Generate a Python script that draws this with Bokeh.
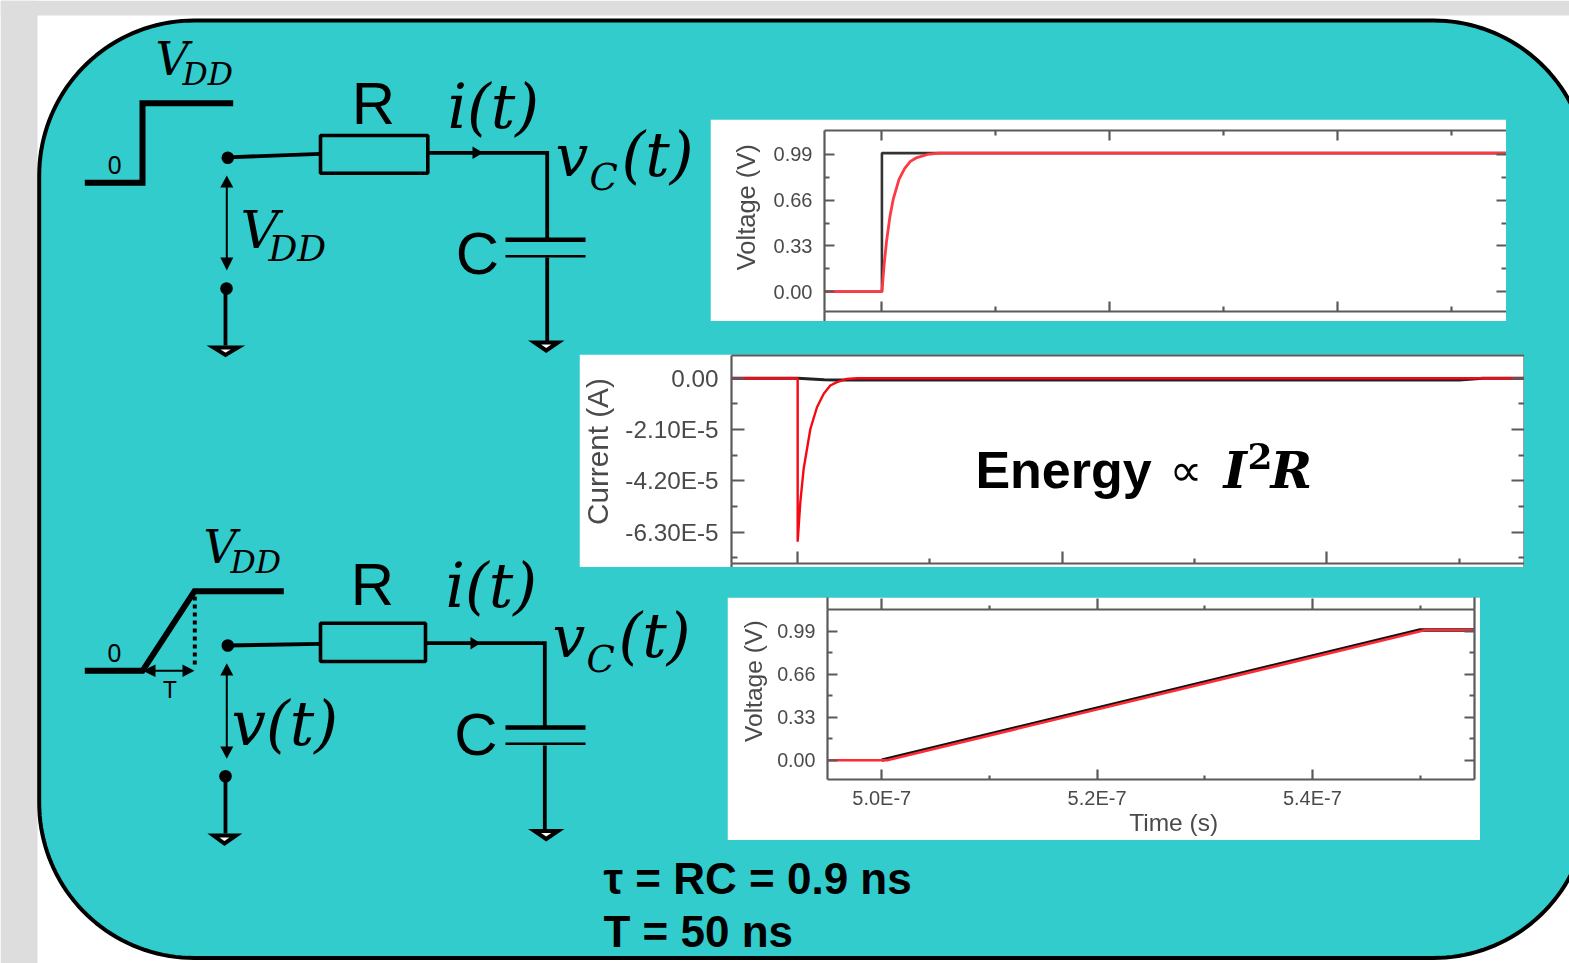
import numpy as np
from bokeh.plotting import figure
from bokeh.core.properties import value
from bokeh.models import Range1d, LinearAxis, FixedTicker
from bokeh.embed import file_html
from bokeh.resources import INLINE

# ---------- chart data (time in ns) ----------
x_major = [500, 520, 540]
x_minor = [510, 530, 550]
x_labels = {500: "5.0E-7", 520: "5.2E-7", 540: "5.4E-7"}

v_major = [0.0, 0.33, 0.66, 0.99]
v_minor = [0.165, 0.495, 0.825]
v_labels = {0.0: "0.00", 0.33: "0.33", 0.66: "0.66", 0.99: "0.99"}

i_major = [0.0, -2.1, -4.2, -6.3]
i_minor = [-1.05, -3.15, -5.25, -7.35]
i_labels = {0.0: "0.00", -2.1: "-2.10E-5", -4.2: "-4.20E-5", -6.3: "-6.30E-5"}

step_input_t = [495, 500, 500, 555]
step_input_v = [0, 0, 1, 1]
step_cap_t = [495, 500, 500.2, 500.4, 500.7, 501, 501.5, 502, 502.5, 503, 504, 505, 555]
step_cap_v = [0, 0, 0.2, 0.36, 0.54, 0.67, 0.81, 0.89, 0.94, 0.965, 0.99, 1.0, 1.0]

cur_r_t = [495, 500, 500, 500.2, 500.45, 500.96, 501.46, 501.97, 502.47, 502.97, 503.7, 504.5, 555]
cur_r_i = [0, 0, -6.7, -5.09, -3.72, -2.08, -1.19, -0.64, -0.30, -0.16, -0.03, 0, 0]
cur_k_t = [495, 500, 501, 502, 503, 550, 551.8, 555]
cur_k_i = [0, 0, -0.03, -0.06, -0.07, -0.07, 0, 0]

ramp_k_t = [500, 550, 555]
ramp_k_v = [0, 1, 1]
ramp_r_t = [495, 500, 500.5, 550.5, 555]
ramp_r_v = [0, 0, 0.0, 1, 1]

TEAL = "#32CCCC"
GREY = "#DDDDDD"
AXC = "#5a5a5a"
TXC = "#4a4a4a"
SANS = "Liberation Sans"
MATH = "DejaVu Serif"

# ---------- canvas: data coordinates are page pixels ----------
W, H = 1569, 963
p = figure(width=W, height=H, x_range=Range1d(0, W), y_range=Range1d(H, 0),
           x_axis_location=None, y_axis_location=None, tools="", toolbar_location=None,
           output_backend="svg", min_border=0, outline_line_color=None,
           background_fill_color="white", border_fill_color="white",
           styles={"position": "absolute", "left": "0px", "top": "0px"})
p.grid.visible = False

p.quad(left=[0, 0], right=[37, 1569], bottom=[963, 15], top=[0, 0], fill_color=GREY, line_color=None)

# rounded panel
L, T, RE, B, RAD = 38.7, 20.0, 1588.0, 957.5, 155.0
a = np.linspace(0, np.pi / 2, 40)
px = np.r_[L + RAD - RAD * np.cos(a), RE - RAD + RAD * np.sin(a), RE - RAD + RAD * np.cos(a), L + RAD - RAD * np.sin(a)]
py = np.r_[T + RAD - RAD * np.sin(a), T + RAD - RAD * np.cos(a), B - RAD + RAD * np.sin(a), B - RAD + RAD * np.cos(a)]
p.patch(px, py, fill_color=TEAL, line_color="black", line_width=4)

# ---------- circuit drawing ----------
thick_x = [[84.3, 142, 142, 232.7], [84.3, 142, 194, 283.3]]
thick_y = [[182.3, 182.3, 102.7, 102.7], [670.3, 670.3, 590.7, 590.7]]
p.multi_line(thick_x, thick_y, line_color="black", line_width=6, line_join="miter")

wire_x = [[227, 320], [427, 546.7, 546.7], [546.7, 546.7], [225, 225],
          [227, 320], [425, 544.3, 544.3], [544.3, 544.3], [225, 225]]
wire_y = [[156.8, 153.3], [152.3, 152.3, 238], [257, 342], [288, 345],
          [645, 643.3], [642.7, 642.7, 726], [745, 830], [776, 833]]
p.multi_line(wire_x, wire_y, line_color="black", line_width=3.8, line_join="miter")

p.quad(left=[320, 320], right=[427.3, 425], top=[135, 622.7], bottom=[172.7, 661],
       fill_color=None, line_color="black", line_width=3.6)

p.multi_line([[505, 585], [505, 585]], [[239.3, 239.3], [727, 727]], line_color="black", line_width=4.5)
p.multi_line([[505, 585], [505, 585]], [[255.7, 255.7], [743.3, 743.3]], line_color="black", line_width=2.6)

p.circle([227.3, 226, 227.3, 225], [157.3, 288, 645, 775.7], radius=6.3, fill_color="black", line_color=None)

# double arrows
p.multi_line([[226.3, 226.3], [226.3, 226.3], [150, 186]], [[185, 260], [672, 748], [670.3, 670.3]],
             line_color="black", line_width=2)
heads_x = [[226.3, 219.8, 232.8], [226.3, 219.8, 232.8], [226.3, 219.8, 232.8], [226.3, 219.8, 232.8],
           [142, 155, 155], [194, 182, 182], [482.7, 472, 472], [480, 470, 470]]
heads_y = [[175, 187, 187], [270, 257, 257], [662.7, 675, 675], [758.3, 746, 746],
           [670.3, 664, 676.5], [670.3, 664, 676.5], [152.3, 146, 158.6], [642.7, 636.4, 649]]
p.patches(heads_x, heads_y, fill_color="black", line_color=None)

p.line([194.3, 194.3], [596, 666], line_color="black", line_width=4, line_dash="4 4")

# grounds
gx = [[213, 237.5, 225], [534, 557.5, 545.7], [213, 235.5, 224], [534, 557.5, 545.7]]
gy = [[347, 347, 354.5], [342, 342, 350], [835, 835, 843], [830.5, 830.5, 838.5]]
p.patches(gx, gy, fill_color="white", line_color="black", line_width=4, line_join="miter")


def txt(fig, x, y, s, size, font=SANS, style="normal", color="black", align="left", base="alphabetic", angle=0):
    off = -0.355 * size if base == "alphabetic" else 0
    fig.text(x=[x], y=[y], text=[s], text_font=value(font), text_font_size=value(f"{size}px"), text_font_style=style,
             text_color=color, text_align=align, text_baseline=base, angle=angle, angle_units="deg",
             y_offset=off, level="annotation")


txt(p, 114.2, 173, "0", 25, "Noto Sans", align="center")
txt(p, 114, 661, "0", 25, "Noto Sans", align="center")
txt(p, 169.3, 697, "T", 24, "Noto Sans", align="center")
txt(p, 373, 124, "R", 60, align="center")
txt(p, 477, 274, "C", 60, align="center")
txt(p, 372, 605, "R", 60, align="center")
txt(p, 475.5, 755, "C", 60, align="center")

for x, y, s, size in [(155, 75, "V", 46), (182, 85, "DD", 31.5),
                      (240, 248, "V", 53), (268, 261, "DD", 36),
                      (203, 563, "V", 46), (230, 573, "DD", 31.5),
                      (447, 128, "i(t)", 61), (555, 176, "v", 58), (589, 190, "C", 37), (621, 176, "(t)", 61),
                      (445, 607, "i(t)", 61), (552, 657, "v", 58), (586, 672, "C", 37), (618, 657, "(t)", 61),
                      (231, 745, "v(t)", 61)]:
    txt(p, x, y, s, size, MATH, "italic")

txt(p, 603, 894, "τ = RC = 0.9 ns", 44, SANS, "bold")
txt(p, 603, 947, "T = 50 ns", 44, SANS, "bold")


# ---------- inset charts ----------
def inset(box, frame, xr, yr):
    bx0, by0, bx1, by1 = box
    fx0, fy0, fx1, fy1 = frame
    f = figure(width=bx1 - bx0, height=by1 - by0, x_range=Range1d(*xr), y_range=Range1d(*yr),
               x_axis_location=None, y_axis_location=None, tools="", toolbar_location=None,
               output_backend="svg", outline_line_color=None, background_fill_color="white",
               border_fill_color="white", min_border_left=round(fx0 - bx0), min_border_right=round(bx1 - fx1),
               min_border_top=round(fy0 - by0), min_border_bottom=round(by1 - fy1),
               styles={"position": "absolute", "left": f"{bx0}px", "top": f"{by0}px", "filter": "blur(0.6px)"})
    f.grid.visible = False
    return f


def axis(f, side, ticks, minor, overrides=None, size=20, standoff=12, tick_len=10, minor_len=5, line=True, outward=False):
    ax = LinearAxis(ticker=FixedTicker(ticks=ticks, minor_ticks=minor))
    ax.axis_line_color = AXC if line else None
    ax.axis_line_width = 2.2
    ax.major_tick_line_color = AXC
    ax.minor_tick_line_color = AXC
    ax.major_tick_line_width = 2.2
    ax.minor_tick_line_width = 2.2
    ax.major_tick_in = 0 if outward else tick_len
    ax.major_tick_out = tick_len if outward else 0
    ax.minor_tick_in = 0 if outward else minor_len
    ax.minor_tick_out = minor_len if outward else 0
    if overrides:
        ax.major_label_overrides = overrides
        ax.major_label_text_font = SANS
        ax.major_label_text_font_size = f"{size}px"
        ax.major_label_text_color = TXC
        ax.major_label_standoff = standoff
    else:
        ax.major_label_text_color = None
        ax.major_label_text_font_size = "1px"
        ax.major_label_standoff = 0
    f.add_layout(ax, side)
    return ax


def extras(f, xs0, ys0, xs1, ys1):
    f.segment(xs0, ys0, xs1, ys1, line_color=AXC, line_width=2.2, level="annotation")


# chart 1
p1 = inset((710, 119, 1506, 321), (823.5, 130, 1506, 310.5), (494.96, 554.82), (-0.143, 1.163))
axis(p1, "left", v_major, v_minor, v_labels, size=20, standoff=12)
axis(p1, "right", v_major, v_minor, line=False)
axis(p1, "below", x_major, x_minor)
axis(p1, "above", x_major, x_minor)
p1.line(step_input_t, step_input_v, line_color="#333333", line_width=2.6)
p1.line(step_cap_t, step_cap_v, line_color="#FF3845", line_width=2.8)
extras(p1, [494.96], [-0.143], [494.96], [-0.219])
to_t1 = lambda x: 500 + (x - 881) / 11.4
to_v1 = lambda y: (290.7 - y) / 45.6 * 0.33
txt(p1, to_t1(745), to_v1(206.5), "Voltage (V)", 25.5, SANS, color=TXC, align="center", base="middle", angle=90)

# chart 2
p2 = inset((579, 354, 1524, 567), (731, 355, 1524, 562.7), (495.0, 554.93), (-7.59, 0.93))
axis(p2, "left", i_major, i_minor, i_labels, size=24.3, standoff=13, tick_len=13, minor_len=6)
axis(p2, "right", i_major, i_minor, tick_len=13, minor_len=6)
axis(p2, "below", x_major, x_minor, tick_len=12, minor_len=5)
top2 = LinearAxis(ticker=FixedTicker(ticks=[]), major_label_text_color=None, major_label_text_font_size="1px",
                  major_label_standoff=0, axis_line_color=AXC, axis_line_width=2.2)
p2.add_layout(top2, "above")
p2.line(cur_k_t, cur_k_i, line_color="#222222", line_width=3)
p2.line(cur_r_t, cur_r_i, line_color="#F50A14", line_width=2.4)
extras(p2, [495.0, 554.93], [-7.59, -7.59], [495.0, 554.93], [-7.8, -7.8])
to_t2 = lambda x: 500 + (x - 797.3) / 13.23
to_i2 = lambda y: -(y - 377.7) / 51.2 * 2.1
txt(p2, to_t2(597), to_i2(451), "Current (A)", 29.7, SANS, color=TXC, align="center", base="middle", angle=90)
txt(p2, to_t2(975), to_i2(488), "Energy", 52, SANS, "bold")
txt(p2, to_t2(1169), to_i2(486), "∝", 46, "DejaVu Sans")
txt(p2, to_t2(1223), to_i2(488), "I", 50, MATH, "bold italic")
txt(p2, to_t2(1247), to_i2(468), "2", 36, MATH, "bold")
txt(p2, to_t2(1270), to_i2(488), "R", 50, MATH, "bold italic")

# chart 3
p3 = inset((727, 597, 1480, 840), (826.7, 609.3, 1474, 779.3), (494.96, 555.06), (-0.148, 1.157))
axis(p3, "left", v_major, v_minor, v_labels, size=19.7, standoff=12)
axis(p3, "right", v_major, v_minor)
axis(p3, "below", x_major, x_minor, x_labels, size=20, standoff=7, tick_len=10, minor_len=4)
axis(p3, "above", x_major, x_minor, tick_len=11, minor_len=4, outward=True)
p3.line(ramp_k_t, ramp_k_v, line_color="#111111", line_width=3.4)
p3.line(ramp_r_t, ramp_r_v, line_color="#FF2A35", line_width=2.6)
extras(p3, [494.96, 555.06], [1.157, 1.157], [494.96, 555.06], [1.25, 1.25])
to_t3 = lambda x: 500 + (x - 881) / 10.77
to_v3 = lambda y: (760 - y) / 43 * 0.33
txt(p3, to_t3(753), to_v3(681), "Voltage (V)", 24.6, SANS, color=TXC, align="center", base="middle", angle=90)
txt(p3, to_t3(1173), to_v3(822), "Time (s)", 24.5, SANS, color=TXC, align="center", base="middle")

# each figure is its own root, placed on the page by its own styles
open("out.html", "w").write(file_html((p, p1, p2, p3), INLINE))
